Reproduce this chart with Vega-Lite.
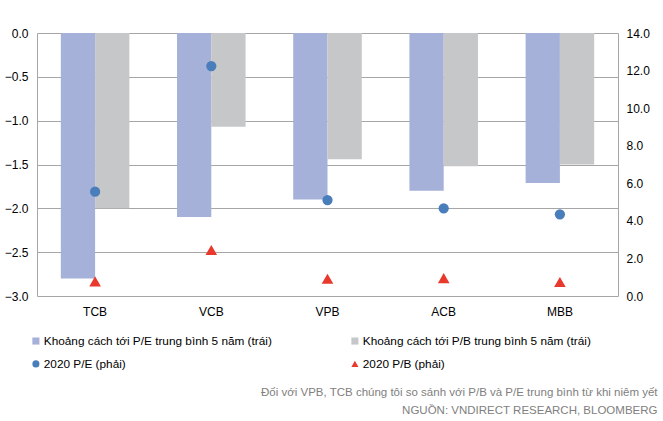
{
  "$schema": "https://vega.github.io/schema/vega-lite/v6.json",
  "width": 581,
  "height": 263,
  "autosize": {"type": "none"},
  "padding": {"left": 37, "top": 33, "right": 45, "bottom": 125},
  "background": "white",
  "config": {
    "font": "Liberation Sans",
    "view": {"stroke": null},
    "axis": {"labelFont": "Liberation Sans", "labelFontSize": 12, "labelColor": "#000000", "ticks": false, "domainColor": "#a6a6a6", "gridColor": "#a6a6a6"},
    "legend": {"labelFont": "Liberation Sans", "labelFontSize": 11.8, "labelColor": "#000000"}
  },
  "datasets": {
    "bars": [
      {"bank": "TCB", "series": "Khoảng cách tới P/E trung bình 5 năm (trái)", "value": -2.8},
      {"bank": "TCB", "series": "Khoảng cách tới P/B trung bình 5 năm (trái)", "value": -2.0},
      {"bank": "VCB", "series": "Khoảng cách tới P/E trung bình 5 năm (trái)", "value": -2.1},
      {"bank": "VCB", "series": "Khoảng cách tới P/B trung bình 5 năm (trái)", "value": -1.07},
      {"bank": "VPB", "series": "Khoảng cách tới P/E trung bình 5 năm (trái)", "value": -1.9},
      {"bank": "VPB", "series": "Khoảng cách tới P/B trung bình 5 năm (trái)", "value": -1.44},
      {"bank": "ACB", "series": "Khoảng cách tới P/E trung bình 5 năm (trái)", "value": -1.8},
      {"bank": "ACB", "series": "Khoảng cách tới P/B trung bình 5 năm (trái)", "value": -1.52},
      {"bank": "MBB", "series": "Khoảng cách tới P/E trung bình 5 năm (trái)", "value": -1.71},
      {"bank": "MBB", "series": "Khoảng cách tới P/B trung bình 5 năm (trái)", "value": -1.5}
    ],
    "points": [
      {"bank": "TCB", "series": "2020 P/E (phải)", "value": 5.55},
      {"bank": "TCB", "series": "2020 P/B (phải)", "value": 0.78},
      {"bank": "VCB", "series": "2020 P/E (phải)", "value": 12.24},
      {"bank": "VCB", "series": "2020 P/B (phải)", "value": 2.45},
      {"bank": "VPB", "series": "2020 P/E (phải)", "value": 5.11},
      {"bank": "VPB", "series": "2020 P/B (phải)", "value": 0.92},
      {"bank": "ACB", "series": "2020 P/E (phải)", "value": 4.67},
      {"bank": "ACB", "series": "2020 P/B (phải)", "value": 0.95},
      {"bank": "MBB", "series": "2020 P/E (phải)", "value": 4.35},
      {"bank": "MBB", "series": "2020 P/B (phải)", "value": 0.75}
    ]
  },
  "encoding": {
    "x": {
      "field": "bank",
      "type": "nominal",
      "sort": ["TCB", "VCB", "VPB", "ACB", "MBB"],
      "scale": {"paddingInner": 0.41, "paddingOuter": 0.205},
      "axis": {
        "labelAngle": 0, "labelPadding": 10, "domain": false,
        "title": ["Đối với VPB, TCB chúng tôi so sánh với P/B và P/E trung bình từ khi niêm yết", "NGUỒN: VNDIRECT RESEARCH, BLOOMBERG"],
        "titleFont": "Liberation Sans", "titleFontSize": 11.5, "titleFontWeight": "normal", "titleColor": "#808080",
        "titleX": 620, "titleY": 90, "titleAlign": "right", "titleBaseline": "top", "titleLineHeight": 18
      }
    }
  },
  "layer": [
    {
      "data": {"name": "bars"},
      "mark": {"type": "bar"},
      "encoding": {
        "xOffset": {"field": "series", "type": "nominal", "sort": ["Khoảng cách tới P/E trung bình 5 năm (trái)", "Khoảng cách tới P/B trung bình 5 năm (trái)"], "scale": {"paddingInner": 0, "paddingOuter": 0}},
        "y": {
          "field": "value",
          "type": "quantitative",
          "scale": {"domain": [-3, 0], "nice": false, "zero": false},
          "axis": {"orient": "left", "values": [-3, -2.5, -2, -1.5, -1, -0.5, 0], "format": ".1f", "labelPadding": 9, "grid": true, "domain": true, "title": null}
        },
        "color": {
          "field": "series",
          "type": "nominal",
          "scale": {
            "domain": ["Khoảng cách tới P/E trung bình 5 năm (trái)", "Khoảng cách tới P/B trung bình 5 năm (trái)", "2020 P/E (phải)", "2020 P/B (phải)"],
            "range": ["#a5b1d8", "#c6c7c9", "#4a7ebb", "#e8392c"]
          },
          "legend": {
            "title": null, "orient": "none", "legendX": -7, "legendY": 302,
            "direction": "horizontal", "columns": 2, "columnPadding": 77, "rowPadding": 10,
            "symbolSize": 50, "symbolStrokeWidth": 0, "labelOffset": 2, "labelLimit": 400
          }
        }
      }
    },
    {
      "data": {"name": "points"},
      "mark": {"type": "point", "filled": true, "opacity": 1},
      "encoding": {
        "y": {
          "field": "value",
          "type": "quantitative",
          "scale": {"domain": [0, 14], "nice": false},
          "axis": {"orient": "right", "values": [0, 2, 4, 6, 8, 10, 12, 14], "format": ".1f", "labelPadding": 8, "grid": false, "domain": true, "title": null}
        },
        "color": {
          "field": "series",
          "type": "nominal",
          "legend": {
            "title": null, "orient": "none", "legendX": -7, "legendY": 302,
            "direction": "horizontal", "columns": 2, "columnPadding": 77, "rowPadding": 10,
            "symbolSize": 50, "symbolStrokeWidth": 0, "labelOffset": 2, "labelLimit": 400
          }
        },
        "shape": {
          "field": "series",
          "type": "nominal",
          "scale": {
            "domain": ["Khoảng cách tới P/E trung bình 5 năm (trái)", "Khoảng cách tới P/B trung bình 5 năm (trái)", "2020 P/E (phải)", "2020 P/B (phải)"],
            "range": ["square", "square", "circle", "triangle-up"]
          },
          "legend": {
            "title": null, "orient": "none", "legendX": -7, "legendY": 302,
            "direction": "horizontal", "columns": 2, "columnPadding": 77, "rowPadding": 10,
            "symbolSize": 50, "symbolStrokeWidth": 0, "labelOffset": 2, "labelLimit": 400
          }
        },
        "size": {
          "field": "series",
          "type": "nominal",
          "scale": {"domain": ["2020 P/E (phải)", "2020 P/B (phải)"], "range": [105, 135]},
          "legend": null
        }
      }
    }
  ],
  "resolve": {"scale": {"y": "independent"}}
}
